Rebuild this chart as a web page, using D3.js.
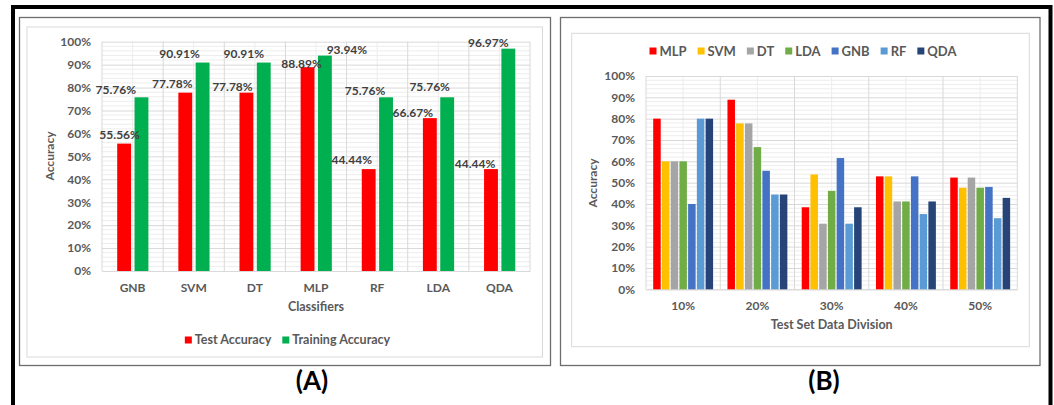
<!DOCTYPE html>
<html><head><meta charset="utf-8">
<script src="https://cdn.jsdelivr.net/npm/d3@7"></script>
<style>
html,body{margin:0;padding:0;background:#fff;overflow:hidden}
text{font-family:Lato,"Open Sans",sans-serif;font-weight:700}
</style></head>
<body><svg id="c" width="1054" height="405"></svg>
<script>
// ---------- Data: panel A ----------
const classifiersA = ["GNB","SVM","DT","MLP","RF","LDA","QDA"];
const testAccuracy = [55.56, 77.78, 77.78, 88.89, 44.44, 66.67, 44.44];
const trainAccuracy = [75.76, 90.91, 90.91, 93.94, 75.76, 75.76, 96.97];
const seriesA = ["Test Accuracy","Training Accuracy"];
// ---------- Data: panel B ----------
const divisionsB = ["10%","20%","30%","40%","50%"];
const modelsB = ["MLP","SVM","DT","LDA","GNB","RF","QDA"];
const mlpB = [80, 88.89, 38.46, 52.94, 52.38];
const svmB = [60, 77.78, 53.85, 52.94, 47.62];
const dtB  = [60, 77.78, 30.77, 41.18, 52.38];
const ldaB = [60, 66.67, 46.15, 41.18, 47.62];
const gnbB = [40, 55.56, 61.54, 52.94, 48.00];
const rfB  = [80, 44.44, 30.77, 35.29, 33.33];
const qdaB = [80, 44.44, 38.46, 41.18, 42.86];
const yTicks = [0,10,20,30,40,50,60,70,80,90,100];

// ---------- Styling / layout (not data) ----------
const colorsA = ["#FF0000","#00B050"];
const colorsB = ["#FF0000","#FFC000","#A5A5A5","#70AD47","#4472C4","#5B9BD5","#264478"];
// manual label nudges [dx from bar centre, dy of label centre from bar top]
const nudgeTest  = [[-4.5,-8.7],[-13,-8.7],[-14,-5.4],[-6,-3.4],[-17,-9.3],[-17,-5.6],[-16,-5.3]];
const nudgeTrain = [[-25.7,-7.3],[-23,-8.3],[-20,-8.3],[22,-6],[-21,-6.6],[-17.5,-10],[-20,-6.3]];

const svg = d3.select("#c");
const txt = "#595959";

// frames
svg.append("rect").attr("x",13).attr("y",7).attr("width",1037.5).attr("height",420)
  .attr("fill","none").attr("stroke","#000").attr("stroke-width",4);
svg.append("rect").attr("x",19.5).attr("y",17.5).attr("width",531).attr("height",348)
  .attr("fill","#fff").attr("stroke","#6d6d6d").attr("stroke-width",1.3);
svg.append("rect").attr("x",27).attr("y",27).attr("width",515.5).attr("height",330)
  .attr("fill","#fff").attr("stroke","#D9D9D9").attr("stroke-width",1);
svg.append("rect").attr("x",560.5).attr("y",17.5).attr("width",479.5).attr("height",348)
  .attr("fill","#fff").attr("stroke","#6d6d6d").attr("stroke-width",1.3);
svg.append("rect").attr("x",571.7).attr("y",33.3).attr("width",457.6).attr("height",313.4)
  .attr("fill","#fff").attr("stroke","#D9D9D9").attr("stroke-width",1);

function grid(g, x0, y, cats){
  const [l,r] = x0.range();
  // minor horizontal every 2%
  d3.range(0,101,2).forEach(v=>{
    if (v%10!==0) g.append("line").attr("x1",l).attr("x2",r).attr("y1",y(v)).attr("y2",y(v))
      .attr("stroke","#EDEDED").attr("stroke-width",1);
  });
  // minor vertical at band centres
  cats.forEach(c=>{
    const xc = x0(c)+x0.bandwidth()/2;
    g.append("line").attr("x1",xc).attr("x2",xc).attr("y1",y(100)).attr("y2",y(0))
      .attr("stroke","#EDEDED").attr("stroke-width",1);
  });
  // major vertical at band boundaries
  cats.concat([null]).forEach((c,i)=>{
    const xb = c===null ? r : x0(c);
    g.append("line").attr("x1",xb).attr("x2",xb).attr("y1",y(100)).attr("y2",y(0))
      .attr("stroke","#D9D9D9").attr("stroke-width",1);
  });
  // major horizontal
  const ax = d3.axisLeft(y).tickValues(yTicks).tickFormat(d=>d+"%").tickSize(-(r-l)).tickPadding(12);
  const a = g.append("g").attr("transform",`translate(${l},0)`).call(ax);
  a.select(".domain").remove();
  a.selectAll(".tick line").attr("stroke","#D9D9D9");
  a.selectAll(".tick text").attr("fill",txt).attr("font-size","12px").attr("dx","1");
  // bottom axis with category labels
  const bx = d3.axisBottom(x0).tickSize(0).tickPadding(12);
  const b = g.append("g").attr("transform",`translate(0,${y(0)})`).call(bx);
  b.select(".domain").attr("stroke","#D9D9D9");
  b.selectAll(".tick text").attr("fill",txt).attr("font-size","12px");
}

function legend(g, names, colors, cx, cy, fs){
  const items = g.append("g");
  let x = 0;
  names.forEach((n,i)=>{
    items.append("rect").attr("x",x).attr("y",cy-3.5).attr("width",7).attr("height",7).attr("fill",colors[i]);
    const t = items.append("text").attr("x",x+10).attr("y",cy).attr("dy","0.35em")
      .attr("fill",txt).attr("font-size",fs).text(n);
    x += 10 + t.node().getComputedTextLength() + 11;
  });
  const w = x - 11;
  items.attr("transform",`translate(${cx - w/2},0)`);
}

// ---------- Panel A ----------
{
  const g = svg.append("g");
  const y = d3.scaleLinear().domain([0,100]).range([271,41.7]);
  const x0 = d3.scaleBand().domain(classifiersA).range([102,530]);
  const x1 = d3.scaleBand().domain(seriesA).range([15.2,46.4]).paddingInner(0.2);
  grid(g, x0, y, classifiersA);
  const rows = classifiersA.map((c,i)=>({c, vals:[testAccuracy[i], trainAccuracy[i]], i}));
  rows.forEach(r=>{
    r.vals.forEach((v,k)=>{
      const bx = x0(r.c)+x1(seriesA[k]);
      g.append("rect").attr("x",bx).attr("y",y(v)).attr("width",x1.bandwidth())
        .attr("height",y(0)-y(v)).attr("fill",colorsA[k]);
    });
  });
  rows.forEach(r=>{
    r.vals.forEach((v,k)=>{
      const nd = (k===0?nudgeTest:nudgeTrain)[r.i];
      const bc = x0(r.c)+x1(seriesA[k])+x1.bandwidth()/2;
      g.append("text").attr("x",bc+nd[0]).attr("y",y(v)+nd[1]).attr("dy","0.35em")
        .attr("text-anchor","middle").attr("fill","#404040").attr("font-size","12px")
        .text(v.toFixed(2)+"%");
    });
  });
  g.append("text").attr("transform","translate(50,156) rotate(-90)").attr("text-anchor","middle")
    .attr("dy","0.35em").attr("fill",txt).attr("font-size","12px").text("Accuracy");
  g.append("text").attr("x",316).attr("y",307).attr("dy","0.35em").attr("text-anchor","middle")
    .attr("fill",txt).attr("font-size","12.5px").text("Classifiers");
  legend(g, seriesA, colorsA, 287.5, 340, "12.5px");
  g.append("text").attr("x",312).attr("y",390).attr("text-anchor","middle")
    .attr("fill","#000").attr("font-size","26px").text("(A)");
}

// ---------- Panel B ----------
{
  const g = svg.append("g");
  const y = d3.scaleLinear().domain([0,100]).range([289.3,76]);
  const x0 = d3.scaleBand().domain(divisionsB).range([646,1017.3]);
  const x1 = d3.scaleBand().domain(modelsB).range([7.2,67.1]).paddingInner(0.14);
  grid(g, x0, y, divisionsB);
  const seriesB = [mlpB, svmB, dtB, ldaB, gnbB, rfB, qdaB];
  divisionsB.forEach((d,i)=>{
    modelsB.forEach((m,k)=>{
      const v = seriesB[k][i];
      g.append("rect").attr("x",x0(d)+x1(m)).attr("y",y(v)).attr("width",x1.bandwidth())
        .attr("height",y(0)-y(v)).attr("fill",colorsB[k]);
    });
  });
  g.append("text").attr("transform","translate(593,183) rotate(-90)").attr("text-anchor","middle")
    .attr("dy","0.35em").attr("fill",txt).attr("font-size","12px").text("Accuracy");
  g.append("text").attr("x",831.7).attr("y",325).attr("dy","0.35em").attr("text-anchor","middle")
    .attr("fill",txt).attr("font-size","12.5px").text("Test Set Data Division");
  legend(g, modelsB, colorsB, 803, 51, "13px");
  g.append("text").attr("x",824).attr("y",390).attr("text-anchor","middle")
    .attr("fill","#000").attr("font-size","26px").text("(B)");
}
</script></body></html>
